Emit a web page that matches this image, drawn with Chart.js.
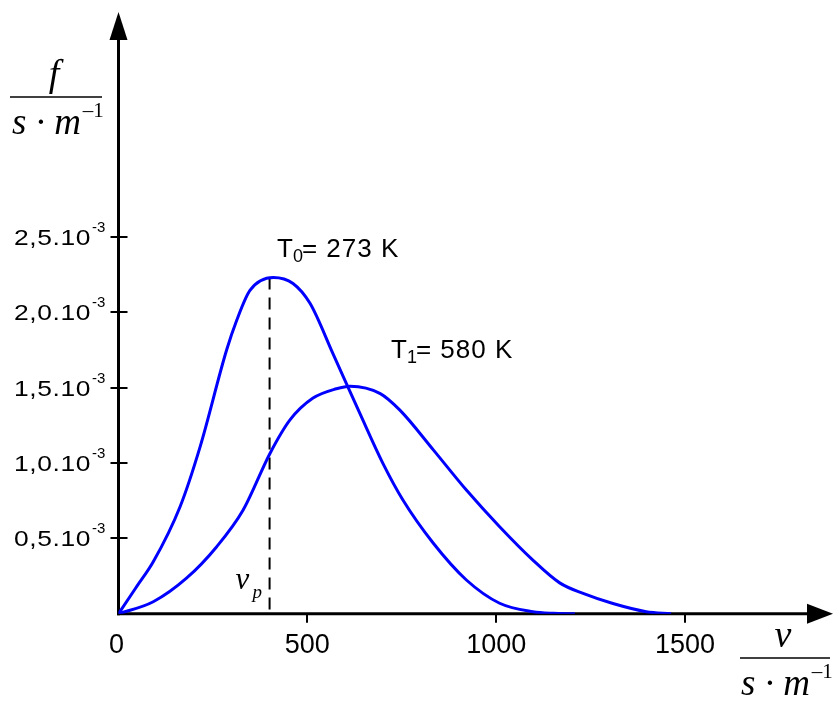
<!DOCTYPE html>
<html>
<head>
<meta charset="utf-8">
<title>Maxwell distribution</title>
<script src="https://cdn.jsdelivr.net/npm/chart.js@4"></script>
<style>
  html, body { margin: 0; padding: 0; background: #fff; }
  #wrap { width: 834px; height: 703px; position: relative; }
</style>
</head>
<body>
<div id="wrap"><canvas id="chartMaxwell" width="834" height="703"></canvas></div>
<script>
// ---- data (f in units of 10^-3 s/m, v in m/s) ----
const vT0 = [0, 48, 92, 163, 216, 286, 313, 348, 410, 462, 507, 568, 639, 700, 753, 833, 921, 1009, 1097, 1150, 1208];
const fT0 = [0, 0.18, 0.345, 0.710, 1.107, 1.747, 1.946, 2.144, 2.230, 2.190, 2.058, 1.723, 1.328, 0.997, 0.754, 0.469, 0.224, 0.070, 0.014, 0.003, 0];

const vT1 = [0, 92, 180, 260, 330, 401, 454, 515, 577, 613, 693, 745, 834, 921, 1009, 1097, 1168, 1230, 1309, 1397, 1463];
const fT1 = [0, 0.080, 0.236, 0.445, 0.688, 1.063, 1.285, 1.430, 1.492, 1.509, 1.460, 1.350, 1.085, 0.820, 0.577, 0.356, 0.205, 0.135, 0.068, 0.014, 0];

const xTicks = [0, 500, 1000, 1500];
const yTicks = [0.5, 1.0, 1.5, 2.0, 2.5];
const yTickLabels = ['0,5.10', '1,0.10', '1,5.10', '2,0.10', '2,5.10'];
const yTickExp = '-3';

const seriesLabels = ['T', 'T'];
const seriesSubs = ['0', '1'];
const seriesRest = ['= 273 K', '= 580 K'];

const vP = 400; // most probable speed at T0

const BLUE = '#0000FF';
const SANS = "'Liberation Sans', Arial, sans-serif";
const SERIF = "'Liberation Serif', 'Times New Roman', serif";

function toPoints(xs, ys) {
  return xs.map(function(v, i) { return { x: v, y: ys[i] }; });
}

// ============= AXES, TICKS, DASHED v_p LINE =============
const axesPlugin = {
  id: 'axes',
  beforeDatasetsDraw: function(chart) {
    const ctx = chart.ctx;
    const x = chart.scales.x, y = chart.scales.y;
    const x0 = x.getPixelForValue(0), y0 = y.getPixelForValue(0);
    ctx.save();
    ctx.strokeStyle = '#000';
    ctx.fillStyle = '#000';

    // y axis + arrow
    ctx.lineWidth = 3;
    ctx.beginPath(); ctx.moveTo(x0, y0 + 1.5); ctx.lineTo(x0, 36); ctx.stroke();
    ctx.beginPath(); ctx.moveTo(x0, 12); ctx.lineTo(x0 - 9, 40); ctx.lineTo(x0 + 9, 40); ctx.closePath(); ctx.fill();

    // x axis + arrow
    ctx.beginPath(); ctx.moveTo(x0 - 1.5, y0); ctx.lineTo(810, y0); ctx.stroke();
    ctx.beginPath(); ctx.moveTo(833, y0); ctx.lineTo(807, y0 - 10); ctx.lineTo(807, y0 + 10); ctx.closePath(); ctx.fill();

    // ticks
    ctx.lineWidth = 2;
    yTicks.forEach(function(t) {
      const py = Math.round(y.getPixelForValue(t));
      ctx.beginPath(); ctx.moveTo(x0 - 8, py); ctx.lineTo(x0 + 9, py); ctx.stroke();
    });
    xTicks.forEach(function(t) {
      if (t === 0) return;
      const px = Math.round(x.getPixelForValue(t));
      ctx.beginPath(); ctx.moveTo(px, y0); ctx.lineTo(px, y0 + 9); ctx.stroke();
    });

    // dashed line at v_p
    const px = x.getPixelForValue(vP);
    ctx.lineWidth = 2;
    ctx.setLineDash([12, 8]);
    ctx.beginPath(); ctx.moveTo(px, y.getPixelForValue(Math.max.apply(null, fT0))); ctx.lineTo(px, y0); ctx.stroke();
    ctx.restore();
  }
};

// ============= TEXT LABELS =============
function fraction(ctx, cx, lineY, x1, x2, top, sX, baseY) {
  ctx.font = 'italic 38px ' + SERIF;
  ctx.textAlign = 'center';
  ctx.fillText(top, cx, lineY - 11);
  ctx.lineWidth = 1.5;
  ctx.beginPath(); ctx.moveTo(x1, lineY); ctx.lineTo(x2, lineY); ctx.stroke();
  ctx.textAlign = 'left';
  ctx.font = 'italic 37px ' + SERIF;
  ctx.fillText('s \u00b7 m', sX, baseY);
  const w = ctx.measureText('s \u00b7 m').width;
  ctx.font = '21px ' + SERIF;
  ctx.fillText('\u20131', sX + w + 2, baseY - 17);
}

const labelsPlugin = {
  id: 'labels',
  afterDraw: function(chart) {
    const ctx = chart.ctx;
    const x = chart.scales.x, y = chart.scales.y;
    const y0 = y.getPixelForValue(0);
    ctx.save();
    ctx.fillStyle = '#000';
    ctx.strokeStyle = '#000';
    ctx.textBaseline = 'alphabetic';

    // y tick labels (glyphs are drawn wide, like the original)
    yTicks.forEach(function(t, i) {
      const py = y.getPixelForValue(t);
      ctx.save();
      ctx.translate(91, py + 8);
      ctx.scale(1.2, 1);
      ctx.font = '22px ' + SANS;
      ctx.letterSpacing = '0.5px';
      ctx.textAlign = 'right';
      ctx.fillText(yTickLabels[i], 0, 0);
      ctx.restore();
      ctx.font = '15px ' + SANS;
      ctx.textAlign = 'left';
      ctx.fillText(yTickExp, 92, py - 5);
    });

    // x tick labels
    ctx.font = '27px ' + SANS;
    ctx.textAlign = 'center';
    xTicks.forEach(function(t) {
      ctx.fillText(String(t), x.getPixelForValue(t) - (t === 0 ? 2 : 0), y0 + 39);
    });

    // series labels
    const pos = [[277, 257], [391, 358]];
    seriesLabels.forEach(function(lbl, i) {
      let px = pos[i][0];
      const py = pos[i][1];
      ctx.textAlign = 'left';
      ctx.font = '26px ' + SANS;
      ctx.fillText(lbl, px, py);
      px += ctx.measureText(lbl).width;
      ctx.font = '18px ' + SANS;
      ctx.fillText(seriesSubs[i], px, py + 5);
      px += ctx.measureText(seriesSubs[i]).width - 1;
      ctx.font = '26px ' + SANS;
      ctx.letterSpacing = '1px';
      ctx.fillText(seriesRest[i], px, py);
      ctx.letterSpacing = '0px';
    });

    // v_p
    const vx = x.getPixelForValue(vP);
    ctx.textAlign = 'left';
    ctx.font = 'italic 31px ' + SERIF;
    ctx.fillText('v', vx - 34, y0 - 25);
    ctx.font = 'italic 19px ' + SERIF;
    ctx.fillText('p', vx - 17, y0 - 16);

    // axis titles
    fraction(ctx, 54, 97, 10, 102, 'f', 12, 134);
    fraction(ctx, 783, 658, 740, 830, 'v', 741, 695);

    ctx.restore();
  }
};

new Chart(document.getElementById('chartMaxwell'), {
  type: 'line',
  data: {
    datasets: [
      { label: 'T0', data: toPoints(vT0, fT0) },
      { label: 'T1', data: toPoints(vT1, fT1) }
    ]
  },
  options: {
    responsive: false,
    animation: false,
    layout: { padding: { left: 118.5, right: 35.6, top: 10.4, bottom: 89.2 } },
    elements: {
      line: { borderColor: BLUE, borderWidth: 3, cubicInterpolationMode: 'monotone', fill: false },
      point: { radius: 0, hoverRadius: 0 }
    },
    scales: {
      x: { type: 'linear', min: 0, max: 1800, display: false },
      y: { type: 'linear', min: 0, max: 4, display: false }
    },
    plugins: {
      legend: { display: false },
      tooltip: { enabled: false }
    }
  },
  plugins: [axesPlugin, labelsPlugin]
});
</script>
</body>
</html>
